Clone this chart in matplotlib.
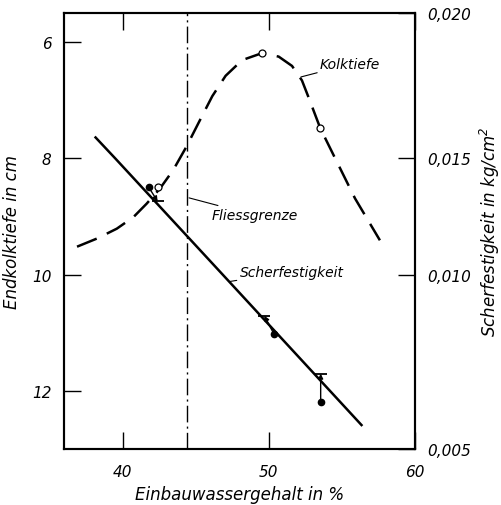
import numpy as np
import matplotlib
matplotlib.use("Agg")
import matplotlib.pyplot as plt

plt.rcParams['font.family'] = ['DejaVu Sans']
plt.rcParams['font.style'] = 'italic'

# Kolktiefe curve (Endkolktiefe in cm vs Einbauwassergehalt in %)
kolk_x = [36.89, 38.25, 39.61, 40.75, 41.65, 42.56, 43.47, 44.37, 45.24, 46.14, 47.05,
          48.18, 49.54, 50.68, 51.59, 52.27, 52.72, 53.52, 54.54, 55.90, 57.60]
kolk_y = [9.52, 9.38, 9.21, 9.01, 8.78, 8.52, 8.20, 7.80, 7.37, 6.93, 6.58,
          6.31, 6.19, 6.25, 6.41, 6.66, 6.95, 7.48, 8.00, 8.69, 9.41]
kolk_pts_x = [42.41, 49.54, 53.52]
kolk_pts_y = [8.50, 6.19, 7.48]

# Scherfestigkeit regression line and measurements (kg/cm^2)
scher_x = [38.1, 39.5, 46.85, 56.4]
scher_y = [0.01575, 0.015, 0.010, 0.00566]
meas_x = [41.8, 50.35, 53.55]
meas_y = [0.01375, 0.0083, 0.00635]
meas_tip_x = [42.4, 49.7, 53.55]
meas_tip_y = [0.01315, 0.00882, 0.00716]

fliess_x = 44.4

# axis definitions
x_ticks = [40, 50, 60]
left_ticks = [6, 8, 10, 12]
right_tick_vals = [0.005, 0.010, 0.015, 0.020]
right_tick_labels = ['0,005', '0,010', '0,015', '0,020']
right_tick_levels = [13, 10, 8, 5.5]  # matching level on left axis

fig = plt.figure(figsize=(5.02, 5.06), dpi=100)
ax = fig.add_axes([0.1275, 0.1107, 0.6992, 0.8616])

ax.set_xlim(36, 60)
ax.set_ylim(13, 5.5)

# right axis with piecewise scale
taus_inc = np.array(right_tick_vals)
levels = np.array(right_tick_levels)

def fwd(v):
    return -np.interp(v, taus_inc, levels)

def inv(u):
    return np.interp(-np.asarray(u), levels[::-1], taus_inc[::-1])

ax2 = ax.twinx()
ax2.set_yscale('function', functions=(fwd, inv))
ax2.set_ylim(0.005, 0.020)

# dash-dot Fliessgrenze
ax.axvline(fliess_x, color='black', lw=1.0, ls=(0, (12, 3, 1.5, 3)))

# Kolktiefe dashed curve
ax.plot(kolk_x, kolk_y, color='black', lw=1.8, ls=(0, (8.5, 4.5)), solid_joinstyle='round',
        dash_joinstyle='round')
ax.plot(kolk_pts_x, kolk_pts_y, 'o', mfc='white', mec='black', ms=5, mew=0.9, zorder=5)

# Scherfestigkeit line
ax2.plot(scher_x, scher_y, color='black', lw=1.8, solid_capstyle='butt')
ax2.plot(meas_x, meas_y, 'o', color='black', ms=4.5, zorder=5)
for mx, my, tx, ty in zip(meas_x, meas_y, meas_tip_x, meas_tip_y):
    ax2.annotate('', xy=(tx, ty), xytext=(mx, my),
                 arrowprops=dict(arrowstyle='-|>', color='black', lw=1.0,
                                 mutation_scale=7, shrinkA=0, shrinkB=0))
ax2.plot(meas_tip_x, meas_tip_y, '_', color='black', ms=8, mew=1.3)

# annotations
fs = 10
ax.annotate('Kolktiefe', xy=(52.2, 6.6), xytext=(53.5, 6.38),
            fontsize=fs, ha='left', va='center',
            arrowprops=dict(arrowstyle='-', color='black', lw=0.8, shrinkA=0, shrinkB=0))
ax.annotate('Fliessgrenze', xy=(44.55, 8.68), xytext=(46.1, 8.98),
            fontsize=fs, ha='left', va='center',
            arrowprops=dict(arrowstyle='-', color='black', lw=0.8, shrinkA=0, shrinkB=0))
ax.annotate('Scherfestigkeit', xy=(47.3, 10.12), xytext=(48.0, 9.95),
            fontsize=fs, ha='left', va='center',
            arrowprops=dict(arrowstyle='-', color='black', lw=0.8, shrinkA=0, shrinkB=0))

# ticks
ax.set_xticks(x_ticks)
ax.set_xticklabels([str(t) for t in x_ticks], fontsize=11)
ax.set_yticks(left_ticks)
ax.set_yticklabels([str(t) for t in left_ticks], fontsize=11)
ax.tick_params(axis='both', direction='in', length=12, width=1.0, pad=9)
ax.tick_params(axis='x', top=True, pad=11)

ax2.set_yticks(right_tick_vals)
ax2.set_yticklabels(right_tick_labels, fontsize=11)
ax2.tick_params(axis='y', direction='in', length=12, width=1.0, pad=9)

for a in (ax, ax2):
    for s in a.spines.values():
        s.set_linewidth(1.5)

ax.set_xlabel('Einbauwassergehalt in %', fontsize=12, labelpad=4)
ax.set_ylabel('Endkolktiefe in cm', fontsize=12, labelpad=8)
ax2.set_ylabel('Scherfestigkeit in kg/cm$^2$', fontsize=12, labelpad=5)

fig.savefig('out.png', dpi=100, facecolor='white')
